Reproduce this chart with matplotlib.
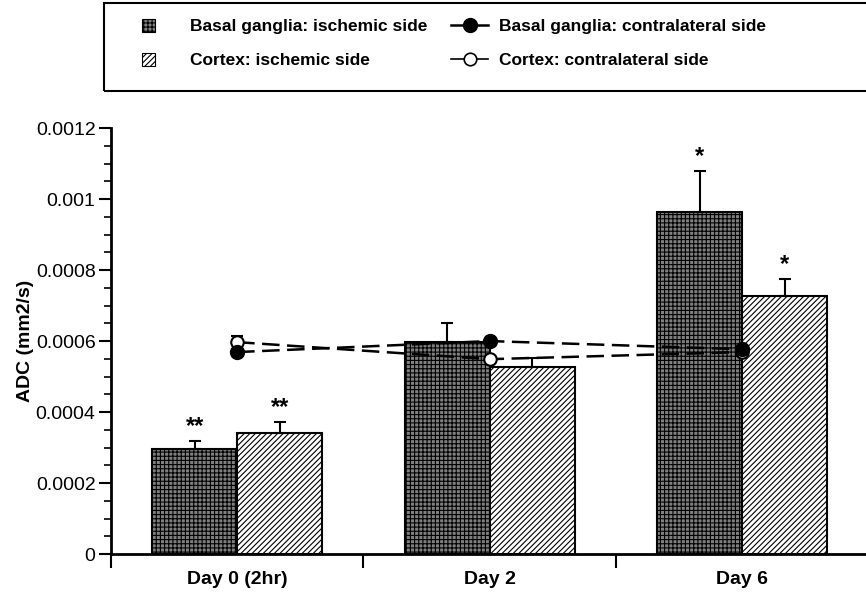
import numpy as np
import matplotlib
matplotlib.use("Agg")
import matplotlib.pyplot as plt
from matplotlib.patches import Rectangle
from matplotlib.lines import Line2D
from matplotlib.legend_handler import HandlerPatch
from matplotlib.ticker import MultipleLocator, FixedLocator

plt.rcParams['font.family'] = ['Liberation Sans', 'DejaVu Sans']
plt.rcParams['hatch.linewidth'] = 0.8

# data
days = ["Day 0 (2hr)", "Day 2", "Day 6"]
bg_isch = [0.000296, 0.000597, 0.000963]
bg_isch_err = [0.000022, 0.000053, 0.000116]
cx_isch = [0.000341, 0.000527, 0.000727]
cx_isch_err = [0.000031, 0.000025, 0.000048]
bg_contra = [0.000569, 0.000600, 0.000577]
cx_contra = [0.000597, 0.000549, 0.000569]
cx_contra_err = [0.000017, 0.0, 0.0]
stars_bg = ["**", "", "*"]
stars_cx = ["**", "", "*"]

yticks = [0, 0.0002, 0.0004, 0.0006, 0.0008, 0.001, 0.0012]
ytick_labels = ["0", "0.0002", "0.0004", "0.0006", "0.0008", "0.001", "0.0012"]

x = np.arange(len(days))
w = 0.336

fig = plt.figure(figsize=(8.66, 5.94), dpi=100)
ax = fig.add_axes([0.128, 0.0673, 0.875, 0.717])

b1 = ax.bar(x - w/2, bg_isch, w, color='#808080', edgecolor='black', linewidth=1.5,
            hatch='++++', zorder=2)
b2 = ax.bar(x + w/2, cx_isch, w, color='white', edgecolor='black', linewidth=1.5,
            hatch='//////', zorder=2)

zeros = np.zeros(len(x))
ax.errorbar(x - w/2, bg_isch, yerr=[zeros, bg_isch_err], fmt='none', ecolor='black',
            elinewidth=1.5, capsize=4, capthick=1.5, zorder=3)
ax.errorbar(x + w/2, cx_isch, yerr=[zeros, cx_isch_err], fmt='none', ecolor='black',
            elinewidth=1.5, capsize=4, capthick=1.5, zorder=3)

for xi, v, e, s in zip(x - w/2, bg_isch, bg_isch_err, stars_bg):
    if s:
        ax.text(xi, v + e + 0.000008, s, ha='center', va='bottom', fontsize=17, fontweight='bold')
for xi, v, e, s in zip(x + w/2, cx_isch, cx_isch_err, stars_cx):
    if s:
        ax.text(xi, v + e + 0.000008, s, ha='center', va='bottom', fontsize=17, fontweight='bold')

# contralateral lines
ax.errorbar(x, cx_contra, yerr=[zeros, cx_contra_err], fmt='none', ecolor='black',
            elinewidth=1.5, capsize=4, capthick=1.5, zorder=4)
ax.plot(x, cx_contra, color='black', linestyle=(0, (7, 3)), linewidth=1.8,
        marker='o', markersize=9, markerfacecolor='white', markeredgecolor='black',
        markeredgewidth=1.5, zorder=5)
ax.plot(x, bg_contra, color='black', linestyle=(0, (7, 3)), linewidth=1.8,
        marker='o', markersize=10, markerfacecolor='black', markeredgecolor='black',
        zorder=6)

ax.set_xlim(-0.5, 2.5)
ax.set_ylim(0, 0.0012)
ax.spines['top'].set_visible(False)
ax.spines['right'].set_visible(False)
ax.spines['left'].set_linewidth(2)
ax.spines['bottom'].set_linewidth(2)

ax.set_xticks(x)
ax.set_xticklabels(days, fontsize=14, fontweight='bold')
ax.xaxis.set_minor_locator(FixedLocator([-0.5, 0.5, 1.5]))
ax.tick_params(axis='x', which='major', length=0, pad=12)
ax.tick_params(axis='x', which='minor', length=10, width=1.5, direction='out')

ax.set_yticks(yticks)
ax.set_yticklabels(ytick_labels, fontsize=14)
ax.yaxis.set_minor_locator(MultipleLocator(0.00005))
ax.tick_params(axis='y', which='major', length=9, width=1.5, direction='out', pad=2)
ax.tick_params(axis='y', which='minor', length=5, width=1.2, direction='out')
ax.set_ylabel("ADC (mm2/s)", fontsize=14, fontweight='bold', labelpad=1)

# legend box
fig.patches.append(Rectangle((104/866, 1 - 91/594), 0.95, 88/594, transform=fig.transFigure,
                             fill=False, edgecolor='black', linewidth=1.5))


class SquareHandler(HandlerPatch):
    def create_artists(self, legend, orig_handle, xdescent, ydescent, width, height,
                       fontsize, trans):
        s = 0.75 * fontsize
        p = Rectangle((-xdescent, -ydescent + (height - s) / 2), s, s,
                      facecolor=orig_handle.get_facecolor(), edgecolor='black',
                      hatch=orig_handle.get_hatch(), linewidth=0.8, transform=trans)
        return [p]


h1 = Rectangle((0, 0), 1, 1, facecolor='#808080', hatch='++++')
h2 = Rectangle((0, 0), 1, 1, facecolor='white', hatch='//////')
h3 = Line2D([], [], color='black', linewidth=1.8, marker='o', markersize=10,
            markerfacecolor='black')
h4 = Line2D([], [], color='black', linewidth=1.2, marker='o', markersize=9,
            markerfacecolor='white', markeredgewidth=1.2)
labels = ["Basal ganglia: ischemic side", "Cortex: ischemic side",
          "Basal ganglia: contralateral side", "Cortex: contralateral side"]
leg = fig.legend([h1, h2, h3, h4], labels, ncol=2, loc='upper left',
                 bbox_to_anchor=(142/866, 1 - 19/594), frameon=False,
                 prop={'size': 12.5, 'weight': 'bold'}, handlelength=2.1,
                 handletextpad=0.65, columnspacing=1.4, labelspacing=1.1,
                 borderpad=0, borderaxespad=0,
                 handler_map={Rectangle: SquareHandler()})

fig.savefig("out.png", dpi=100)
